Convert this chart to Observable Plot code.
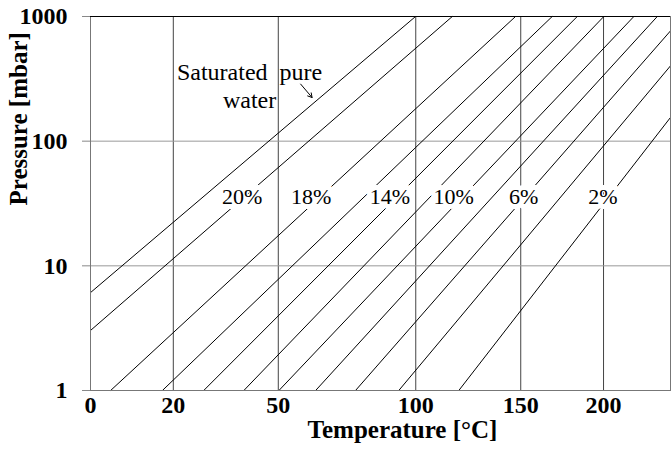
<!DOCTYPE html>
<html>
<head>
<meta charset="utf-8">
<script src="https://cdn.jsdelivr.net/npm/d3@7"></script>
<script src="https://cdn.jsdelivr.net/npm/@observablehq/plot@0.6"></script>
<style>
  html, body { margin: 0; padding: 0; background: white; }
  svg text { font-family: "Liberation Serif", "Times New Roman", Times, serif; }
</style>
</head>
<body>
<div id="chart"></div>
<script>
// ---- Data ----
// Straight lines in log(P) vs 1/T coordinates: start and end points of each line
const series = ["Saturated pure water", "20%", "18%", "16%", "14%", "12%", "10%", "8%", "6%", "4%", "2%"];
const tStart = [0, 0, 4.6, 17.2, 28.1, 39.5, 50.2, 62.2, 76.3, 93.0, 119.0];   // °C
const pStart = [6.1, 3.03, 1, 1, 1, 1, 1, 1, 1, 1, 1];                          // mbar
const tEnd   = [99.9, 116.0, 147.2, 167.7, 182.9, 200.2, 221.4, 239.3, 250, 250, 250];
const pEnd   = [1000, 1000, 1000, 1000, 1000, 1000, 1000, 1000, 767, 402, 155];

// Curve labels
const labelText = ["20%", "18%", "14%", "10%", "6%", "2%"];
const labelT    = [39.0, 60.7, 89.4, 116.6, 151.6, 199.6];
const labelP    = [36, 36, 36, 36, 36, 36];

// Annotation for pure water
const waterText = ["Saturated  pure\nwater"];
const waterT = [41.2];
const waterP = [283];
const arrowT = [57.2, 61.0];
const arrowP = [287, 224];

// Axis ticks / grid
const xTicks = [0, 20, 50, 100, 150, 200];
const xGrid  = [20, 50, 100, 150, 200];
const yTicks = [1, 10, 100, 1000];
const yGrid  = [10, 100];
const xDomain = [0, 250];
const yDomain = [1, 1000];

// ---- Build ----
const toU = t => -1 / (t + 273.15);   // reciprocal absolute temperature scale
const fromU = u => Math.round(-1 / u - 273.15);

const lines = series.map((s, i) => ({s, x1: toU(tStart[i]), y1: pStart[i], x2: toU(tEnd[i]), y2: pEnd[i]}));
const labels = labelText.map((t, i) => ({t, x: toU(labelT[i]), y: labelP[i]}));

const serif = "Liberation Serif, Times New Roman, Times, serif";

const chart = Plot.plot({
  width: 671,
  height: 452,
  marginLeft: 90,
  marginRight: 1,
  marginTop: 16,
  marginBottom: 62,
  style: {fontFamily: serif, background: "white", color: "black"},
  x: {type: "linear", domain: xDomain.map(toU)},
  y: {type: "log", domain: yDomain},
  marks: [
    Plot.ruleX(xGrid, {x: toU, stroke: "#444", strokeWidth: 1}),
    Plot.ruleY(yGrid, {stroke: "#999", strokeWidth: 1}),
    Plot.link(lines, {x1: "x1", y1: "y1", x2: "x2", y2: "y2", stroke: "black", strokeWidth: 1}),
    Plot.text(labels, {x: "x", y: "y", text: "t", fontFamily: serif, fontSize: 22, fill: "black", stroke: "white", strokeWidth: 10, strokeLinejoin: "round"}),
    Plot.text(waterText, {x: toU(waterT[0]), y: waterP[0], text: d => d, fontFamily: serif, fontSize: 24, lineHeight: 1.18, fill: "black"}),
    Plot.arrow([0], {x1: toU(arrowT[0]), y1: arrowP[0], x2: toU(arrowT[1]), y2: arrowP[1], stroke: "black", strokeWidth: 1, headLength: 7, bend: 0}),
    Plot.frame({stroke: "#777"}),
    Plot.ruleY([yDomain[1]], {stroke: "black"}),
    Plot.axisY({ticks: yTicks, tickFormat: d => String(d), tickSize: 8, tickPadding: 15, fontFamily: serif, fontSize: 24, fontWeight: "bold", fill: "black", stroke: "#888", label: null}),
    Plot.axisX({ticks: xTicks.map(toU), tickFormat: fromU, tickSize: 0, tickPadding: 5, fontFamily: serif, fontSize: 24, fontWeight: "bold", fill: "black", label: null}),
    Plot.text(["Temperature [°C]"], {frameAnchor: "bottom", dx: 22, dy: 47, text: d => d, fontFamily: serif, fontSize: 25, fontWeight: "bold", fill: "black"}),
    Plot.text(["Pressure [mbar]"], {frameAnchor: "left", dx: -72, dy: 2, rotate: -90, text: d => d, fontFamily: serif, fontSize: 25, fontWeight: "bold", fill: "black"})
  ]
});
document.getElementById("chart").appendChild(chart);
</script>
</body>
</html>
